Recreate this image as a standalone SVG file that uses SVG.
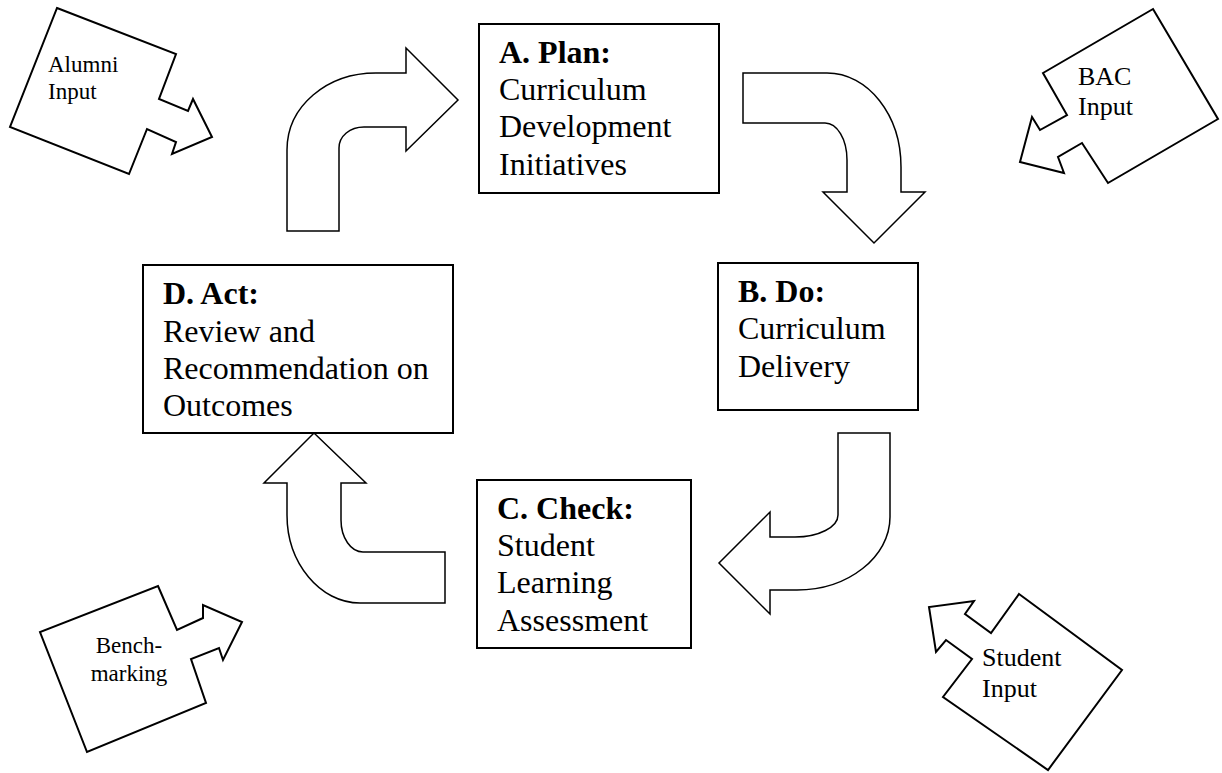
<svg xmlns="http://www.w3.org/2000/svg" width="1222" height="773" viewBox="0 0 1222 773">
  <style>
    .box { fill: #fff; stroke: #000; stroke-width: 2; }
    .arrow { fill: #fff; stroke: #000; stroke-width: 1.5; stroke-linejoin: miter; }
    .callout { fill: #fff; stroke: #000; stroke-width: 2; stroke-linejoin: miter; }
    .t { font-family: "Liberation Serif", "Times New Roman", serif; font-size: 32px; fill: #000; }
    .b { font-weight: bold; }
    .s { font-family: "Liberation Serif", "Times New Roman", serif; fill: #000; }
  </style>
  <rect width="1222" height="773" fill="#fff"/>

  <!-- block arrows linking the four stages -->
  <g id="connectors">
    <path class="arrow" d="M287,231 L287,150 C287,106 327,73 376,73 L406,73 L406,48 L458,100 L406,151 L406,127 L364,127 C350,127 339,136 339,148 L339,231 Z"/>
    <path class="arrow" d="M743,73 L827,73 C868,73 901,115 901,167 L901,192 L925,192 L874,243 L823,192 L847,192 L847,160 C847,139 837,123 825,123 L743,123 Z"/>
    <path class="arrow" d="M838,433 L890,433 L890,517 C890,557 848,590 797,590 L770,590 L770,614 L719,563 L770,512 L770,537 L795,537 C819,537 838,527 838,515 Z"/>
    <path class="arrow" d="M287,483 L264,483 L314,433 L366,483 L341,483 L341,520 C341,538 351,552 363,552 L445,552 L445,603 L360,603 C320,603 287,563 287,515 Z"/>
  </g>

  <!-- stage boxes -->
  <g id="plan">
    <rect class="box" x="479" y="24" width="240" height="169"/>
    <text class="t" x="499" y="63"><tspan class="b">A. Plan:</tspan></text>
    <text class="t" x="499" y="100">Curriculum</text>
    <text class="t" x="499" y="137">Development</text>
    <text class="t" x="499" y="175">Initiatives</text>
  </g>
  <g id="do">
    <rect class="box" x="718" y="263" width="200" height="147"/>
    <text class="t" x="738" y="302"><tspan class="b">B. Do:</tspan></text>
    <text class="t" x="738" y="339">Curriculum</text>
    <text class="t" x="738" y="377">Delivery</text>
  </g>
  <g id="check">
    <rect class="box" x="477" y="480" width="214" height="168"/>
    <text class="t" x="497" y="519"><tspan class="b">C. Check:</tspan></text>
    <text class="t" x="497" y="556">Student</text>
    <text class="t" x="497" y="593">Learning</text>
    <text class="t" x="497" y="631">Assessment</text>
  </g>
  <g id="act">
    <rect class="box" x="143" y="265" width="310" height="168"/>
    <text class="t" x="163" y="304"><tspan class="b">D. Act:</tspan></text>
    <text class="t" x="163" y="342">Review and</text>
    <text class="t" x="163" y="379">Recommendation on</text>
    <text class="t" x="163" y="416">Outcomes</text>
  </g>

  <!-- input callouts -->
  <g id="alumni">
    <polygon class="callout" points="57,8 176,54 159,99 188,111 193,99 212,137 172,154 176,142 147,129 129,174 10,127"/>
    <text class="s" font-size="23" x="48" y="72">Alumni</text>
    <text class="s" font-size="23" x="48" y="99">Input</text>
  </g>
  <g id="bac">
    <polygon class="callout" points="1153,9 1218,119 1108,183 1082,143 1058,157 1064,173 1020,162 1032,117 1040,130 1067,115 1043,73"/>
    <text class="s" font-size="26" x="1078" y="85">BAC</text>
    <text class="s" font-size="26" x="1078" y="115">Input</text>
  </g>
  <g id="benchmarking">
    <polygon class="callout" points="158,586 177,630 203,618 203,605 242,622 223,660 219,648 191,659 206,703 87,752 40,632"/>
    <text class="s" font-size="23" x="129" y="653" text-anchor="middle">Bench-</text>
    <text class="s" font-size="23" x="129" y="681" text-anchor="middle">marking</text>
  </g>
  <g id="student">
    <polygon class="callout" points="1019,594 1122,670 1048,770 943,697 972,659 946,640 936,652 929,607 974,601 965,614 991,633"/>
    <text class="s" font-size="26" x="982" y="666">Student</text>
    <text class="s" font-size="26" x="982" y="697">Input</text>
  </g>
</svg>
